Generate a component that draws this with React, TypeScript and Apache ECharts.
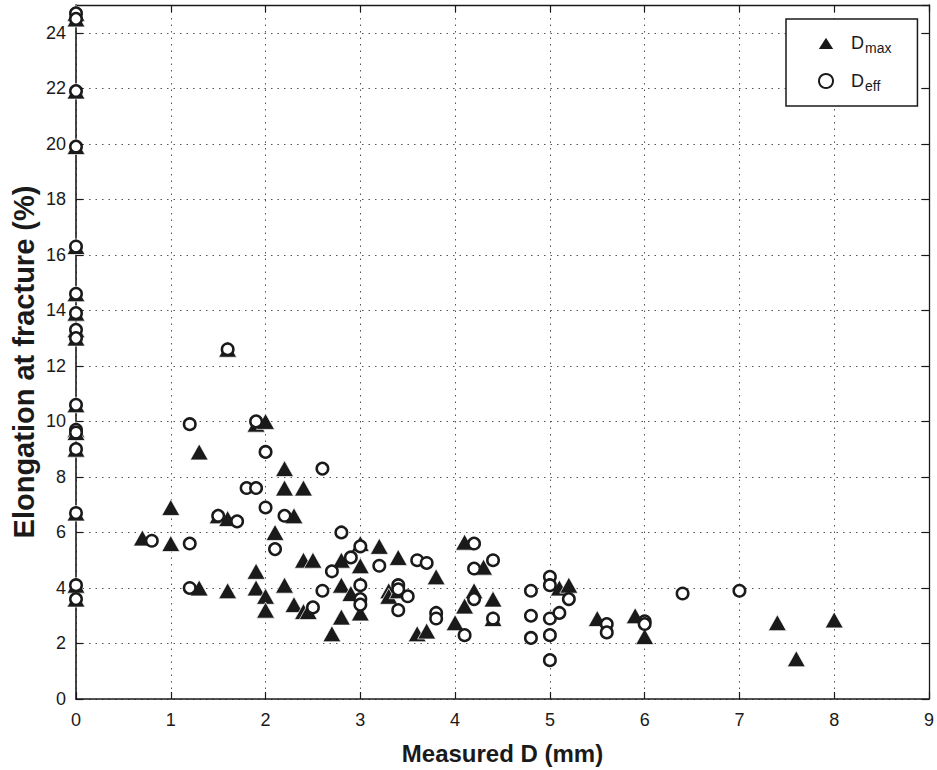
import React, { useEffect, useRef } from "react";
import * as echarts from "echarts";

// Values at D = 0 (both series share this column)
const zeroColumnY = [24.7, 24.5, 21.9, 19.9, 16.3, 14.6, 13.9, 13.3, 13.0, 10.6, 9.7, 9.6, 9.0, 6.7, 4.1, 3.6];

// D max (filled triangles)
const dmaxX = [
  0.7, 1.0, 1.0, 1.3, 1.3, 1.5, 1.6, 1.6, 1.6, 1.9, 1.9, 1.9, 2.0, 2.0, 2.0, 2.1, 2.2, 2.2, 2.2, 2.3,
  2.3, 2.4, 2.4, 2.4, 2.45, 2.5, 2.7, 2.8, 2.8, 2.8, 2.9, 3.0, 3.0, 3.0, 3.2, 3.3, 3.3, 3.4, 3.4, 3.6,
  3.7, 3.8, 4.0, 4.1, 4.1, 4.2, 4.3, 4.4, 4.4, 5.1, 5.2, 5.5, 5.9, 6.0, 7.4, 7.6, 8.0,
];
const dmaxY = [
  5.8, 6.9, 5.6, 8.9, 4.0, 6.6, 12.6, 6.5, 3.9, 9.9, 4.6, 4.0, 10.0, 3.7, 3.2, 6.0, 8.3, 7.6, 4.1, 6.6,
  3.4, 7.6, 5.0, 3.15, 3.15, 5.0, 2.35, 5.0, 4.1, 2.95, 3.8, 5.6, 4.8, 3.1, 5.5, 3.9, 3.7, 5.1, 3.9, 2.35,
  2.45, 4.4, 2.75, 5.65, 3.35, 3.9, 4.75, 3.6, 2.9, 4.0, 4.1, 2.9, 3.0, 2.25, 2.75, 1.45, 2.85,
];

// D eff (open circles)
const deffX = [
  0.8, 1.2, 1.2, 1.2, 1.5, 1.6, 1.7, 1.8, 1.9, 1.9, 2.0, 2.0, 2.1, 2.2, 2.5, 2.6, 2.6, 2.7, 2.8, 2.9,
  3.0, 3.0, 3.0, 3.0, 3.2, 3.4, 3.4, 3.4, 3.5, 3.6, 3.7, 3.8, 3.8, 4.1, 4.2, 4.2, 4.2, 4.4, 4.4, 4.8,
  4.8, 4.8, 5.0, 5.0, 5.0, 5.0, 5.0, 5.1, 5.2, 5.6, 5.6, 6.0, 6.0, 6.4, 7.0,
];
const deffY = [
  5.7, 9.9, 5.6, 4.0, 6.6, 12.6, 6.4, 7.6, 7.6, 10.0, 8.9, 6.9, 5.4, 6.6, 3.3, 8.3, 3.9, 4.6, 6.0, 5.1,
  5.5, 4.1, 3.6, 3.4, 4.8, 4.1, 3.95, 3.2, 3.7, 5.0, 4.9, 3.1, 2.9, 2.3, 5.6, 4.7, 3.6, 5.0, 2.9, 3.9,
  3.0, 2.2, 4.4, 4.1, 2.9, 2.3, 1.4, 3.1, 3.6, 2.7, 2.4, 2.8, 2.7, 3.8, 3.9,
];

const xTicks = { min: 0, max: 9, interval: 1 };
const yTicks = { min: 0, max: 25, interval: 2 };

const FONT = "'Liberation Sans', Arial, Helvetica, sans-serif";
const INK = "#1a1a1a";

function pairs(xs: number[], ys: number[]): number[][] {
  return xs.map((x, i) => [x, ys[i]]);
}

export default function App() {
  const ref = useRef<HTMLDivElement>(null);

  useEffect(() => {
    if (!ref.current) return;
    const chart = echarts.init(ref.current, null, { renderer: "svg" });

    const zeroPts = zeroColumnY.map((y) => [0, y]);
    const dmaxData = zeroPts.concat(pairs(dmaxX, dmaxY));
    const deffData = zeroPts.concat(pairs(deffX, deffY));

    const gridLine = { show: true, lineStyle: { type: [1.5, 5], color: "#555", width: 1 } };
    const tick = { show: true, inside: true, length: 7, lineStyle: { color: INK, width: 1.2 } };

    chart.setOption({
      animation: false,
      backgroundColor: "#ffffff",
      textStyle: { fontFamily: FONT },
      grid: { left: 76, right: 2, top: 5, bottom: 68, containLabel: false },
      legend: {
        orient: "vertical",
        left: 786,
        top: 19,
        backgroundColor: "#fff",
        borderColor: INK,
        borderWidth: 1.5,
        borderRadius: 0,
        padding: [12, 26, 13, 30],
        itemGap: 14,
        itemWidth: 18,
        itemHeight: 14,
        data: [
          { name: "Dmax", icon: "triangle" },
          { name: "Deff", icon: "circle" },
        ],
        formatter: (name: string) =>
          name === "Dmax" ? "{s|}{a|D}{b|max}" : "{s|}{a|D}{b|eff}",
        textStyle: {
          color: INK,
          fontFamily: FONT,
          rich: {
            s: { width: 11 },
            a: { fontSize: 18, lineHeight: 20, fontFamily: FONT, color: INK },
            b: { fontSize: 14, lineHeight: 16, padding: [10, 0, 0, 1], fontFamily: FONT, color: INK },
          },
        },
      },
      xAxis: [
        {
          type: "value",
          position: "bottom",
          ...xTicks,
          name: "Measured D (mm)",
          nameLocation: "middle",
          nameGap: 42,
          nameTextStyle: { fontSize: 24, fontWeight: "bold", color: INK, fontFamily: FONT },
          axisLine: { show: true, onZero: false, lineStyle: { color: INK, width: 1.6 } },
          axisTick: tick,
          axisLabel: { fontSize: 18, color: INK, margin: 12, fontFamily: FONT },
          splitLine: gridLine,
        },
        {
          type: "value",
          position: "top",
          ...xTicks,
          axisLine: { show: true, onZero: false, lineStyle: { color: INK, width: 1.3 } },
          axisTick: tick,
          axisLabel: { show: false },
          splitLine: { show: false },
        },
      ],
      yAxis: [
        {
          type: "value",
          position: "left",
          ...yTicks,
          axisLine: { show: true, onZero: false, lineStyle: { color: INK, width: 1.6 } },
          axisTick: tick,
          axisLabel: { fontSize: 18, color: INK, margin: 10, fontFamily: FONT, showMaxLabel: false },
          splitLine: gridLine,
        },
        {
          type: "value",
          position: "right",
          ...yTicks,
          axisLine: { show: true, onZero: false, lineStyle: { color: INK, width: 1.3 } },
          axisTick: tick,
          axisLabel: { show: false },
          splitLine: { show: false },
        },
      ],
      graphic: [
        {
          type: "text",
          x: 24,
          y: 362,
          rotation: Math.PI / 2,
          style: {
            text: "Elongation at fracture (%)",
            fontSize: 29,
            fontWeight: "bold",
            fontFamily: FONT,
            fill: INK,
            align: "center",
            verticalAlign: "middle",
          },
        },
      ],
      series: [
        {
          name: "Dmax",
          type: "scatter",
          xAxisIndex: 0,
          yAxisIndex: 0,
          clip: false,
          symbol: "triangle",
          symbolSize: [18, 16],
          itemStyle: { color: INK, borderColor: "#ffffff", borderWidth: 0.7, opacity: 1 },
          data: dmaxData,
          z: 3,
        },
        {
          name: "Deff",
          type: "scatter",
          xAxisIndex: 0,
          yAxisIndex: 0,
          clip: false,
          symbol: "circle",
          symbolSize: 11.5,
          itemStyle: { color: "#ffffff", borderColor: INK, borderWidth: 2.5, opacity: 1 },
          data: deffData,
          z: 4,
        },
      ],
    });

    return () => chart.dispose();
  }, []);

  return (
    <div
      ref={ref}
      style={{ position: "fixed", left: 0, top: 0, width: 937, height: 770, background: "#fff" }}
    />
  );
}
